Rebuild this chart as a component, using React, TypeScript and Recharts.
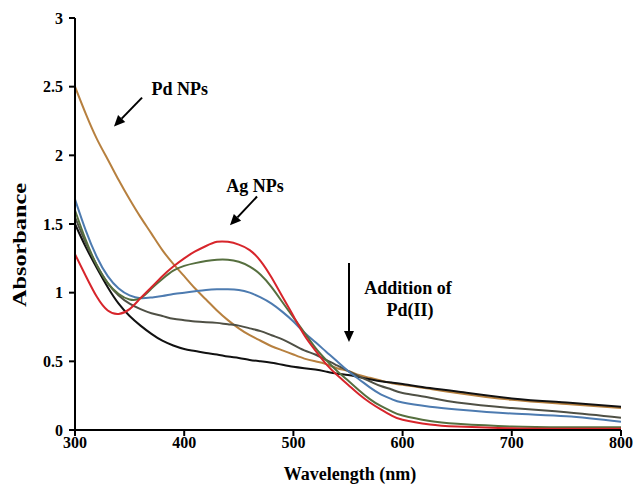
import React from 'react';
import { LineChart, Line, XAxis, YAxis, ReferenceLine, ReferenceDot } from 'recharts';

const wavelengths = [300, 310, 320, 330, 340, 350, 360, 370, 380, 390, 400, 410, 420, 430, 440, 450, 460, 470, 480, 490, 500, 510, 520, 530, 540, 550, 560, 570, 580, 590, 600, 625, 650, 700, 750, 800];

const pdNPs = [2.5, 2.3, 2.12, 1.97, 1.82, 1.68, 1.55, 1.43, 1.31, 1.21, 1.12, 1.03, 0.95, 0.87, 0.8, 0.74, 0.69, 0.65, 0.61, 0.58, 0.55, 0.52, 0.5, 0.48, 0.45, 0.43, 0.4, 0.38, 0.36, 0.34, 0.33, 0.3, 0.27, 0.22, 0.19, 0.16];
const step4 = [1.5, 1.33, 1.18, 1.04, 0.92, 0.83, 0.76, 0.7, 0.65, 0.615, 0.59, 0.575, 0.56, 0.55, 0.535, 0.525, 0.51, 0.5, 0.49, 0.475, 0.46, 0.45, 0.44, 0.425, 0.41, 0.4, 0.385, 0.37, 0.355, 0.345, 0.335, 0.305, 0.28, 0.23, 0.2, 0.17];
const step3 = [1.55, 1.36, 1.2, 1.07, 0.98, 0.92, 0.88, 0.85, 0.83, 0.81, 0.8, 0.79, 0.785, 0.78, 0.77, 0.76, 0.74, 0.72, 0.69, 0.66, 0.62, 0.58, 0.55, 0.51, 0.47, 0.43, 0.39, 0.355, 0.32, 0.295, 0.27, 0.235, 0.2, 0.16, 0.13, 0.09];
const step2 = [1.68, 1.45, 1.26, 1.12, 1.03, 0.98, 0.96, 0.965, 0.975, 0.99, 1.0, 1.01, 1.02, 1.025, 1.025, 1.02, 1.0, 0.965, 0.92, 0.86, 0.79, 0.71, 0.64, 0.57, 0.5, 0.43, 0.37, 0.31, 0.26, 0.225, 0.2, 0.17, 0.15, 0.12, 0.1, 0.06];
const step1 = [1.6, 1.38, 1.2, 1.07, 0.99, 0.95, 0.96, 1.03, 1.1, 1.16, 1.195, 1.215, 1.23, 1.24, 1.24, 1.225, 1.19, 1.13, 1.04, 0.93, 0.82, 0.71, 0.6, 0.51, 0.43, 0.36, 0.29, 0.225, 0.175, 0.135, 0.105, 0.065, 0.045, 0.025, 0.02, 0.02];
const agNPs = [1.28, 1.12, 0.97, 0.87, 0.845, 0.88, 0.96, 1.04, 1.12, 1.19, 1.25, 1.3, 1.34, 1.37, 1.37, 1.35, 1.31, 1.23, 1.11, 0.97, 0.83, 0.69, 0.58, 0.48, 0.4, 0.33, 0.26, 0.2, 0.15, 0.105, 0.075, 0.04, 0.025, 0.012, 0.01, 0.01];

const xTicks = [300, 400, 500, 600, 700, 800];
const yTicks = [0, 0.5, 1, 1.5, 2, 2.5, 3];

const data = wavelengths.map((w, i) => ({
  w,
  pd: pdNPs[i],
  s4: step4[i],
  s3: step3[i],
  s2: step2[i],
  s1: step1[i],
  ag: agNPs[i],
}));

const FONT = '"Liberation Serif", "Times New Roman", serif';

const arrowShape = (props: any) => {
  const { x1, y1, x2, y2 } = props;
  const dx = x2 - x1;
  const dy = y2 - y1;
  const len = Math.sqrt(dx * dx + dy * dy) || 1;
  const ux = dx / len;
  const uy = dy / len;
  const hl = 11;
  const hw = 5;
  const bx = x2 - ux * hl;
  const by = y2 - uy * hl;
  const pts = `${x2},${y2} ${bx - uy * hw},${by + ux * hw} ${bx + uy * hw},${by - ux * hw}`;
  return (
    <g>
      <line x1={x1} y1={y1} x2={bx} y2={by} stroke="#000" strokeWidth={2} />
      <polygon points={pts} fill="#000" />
    </g>
  );
};

const textShape = (txt: string) => (props: any) => (
  <text
    x={props.cx}
    y={props.cy}
    textAnchor="middle"
    dominantBaseline="central"
    fontFamily={FONT}
    fontWeight="bold"
    fontSize={18}
    fill="#000"
  >
    {txt}
  </text>
);

export default function App() {
  return (
    <div style={{ position: 'absolute', left: 0, top: 0 }}>
      <LineChart width={633} height={484} data={data} margin={{ top: 18, right: 12, bottom: 4, left: 0 }}>
        <XAxis
          dataKey="w"
          type="number"
          domain={[300, 800]}
          ticks={xTicks}
          allowDataOverflow
          height={50}
          stroke="#000"
          strokeWidth={2}
          tickSize={6}
          tickMargin={1}
          tick={{ fill: '#000', fontFamily: FONT, fontWeight: 'bold', fontSize: 16 }}
          tickLine={{ stroke: '#000', strokeWidth: 2 }}
          label={() => (
            <text x={350} y={480} textAnchor="middle" fontFamily={FONT} fontWeight="bold" fontSize={18} fill="#000">
              Wavelength (nm)
            </text>
          )}
        />
        <YAxis
          type="number"
          domain={[0, 3]}
          ticks={yTicks}
          width={75}
          stroke="#000"
          strokeWidth={2}
          tickSize={6}
          tickMargin={6}
          tick={{ fill: '#000', fontFamily: FONT, fontWeight: 'bold', fontSize: 16 }}
          tickLine={{ stroke: '#000', strokeWidth: 2 }}
          label={() => (
            <text
              x={20}
              y={245}
              transform="rotate(-90 20 245)"
              textAnchor="middle"
              dominantBaseline="central"
              fontFamily={FONT}
              fontWeight="bold"
              fontSize={18}
              textLength={124}
              lengthAdjust="spacingAndGlyphs"
              fill="#000"
            >
              Absorbance
            </text>
          )}
        />
        <Line dataKey="pd" type="natural" stroke="#b7803f" strokeWidth={2} dot={false} isAnimationActive={false} />
        <Line dataKey="s4" type="natural" stroke="#111111" strokeWidth={2} dot={false} isAnimationActive={false} />
        <Line dataKey="s3" type="natural" stroke="#4f5045" strokeWidth={2} dot={false} isAnimationActive={false} />
        <Line dataKey="s2" type="natural" stroke="#4d7bb0" strokeWidth={2} dot={false} isAnimationActive={false} />
        <Line dataKey="s1" type="natural" stroke="#566f3f" strokeWidth={2} dot={false} isAnimationActive={false} />
        <Line dataKey="ag" type="natural" stroke="#d7252b" strokeWidth={2} dot={false} isAnimationActive={false} />

        <ReferenceLine segment={[{ x: 361.4, y: 2.42 }, { x: 335.7, y: 2.21 }]} shape={arrowShape} />
        <ReferenceLine segment={[{ x: 466.7, y: 1.7 }, { x: 441.9, y: 1.49 }]} shape={arrowShape} />
        <ReferenceLine segment={[{ x: 550.9, y: 1.216 }, { x: 550.9, y: 0.641 }]} shape={arrowShape} />

        <ReferenceDot x={396} y={2.48} r={1} shape={textShape('Pd NPs')} />
        <ReferenceDot x={464.8} y={1.78} r={1} shape={textShape('Ag NPs')} />
        <ReferenceDot x={605} y={1.034} r={1} shape={textShape('Addition of')} />
        <ReferenceDot x={606.8} y={0.874} r={1} shape={textShape('Pd(II)')} />
      </LineChart>
    </div>
  );
}
